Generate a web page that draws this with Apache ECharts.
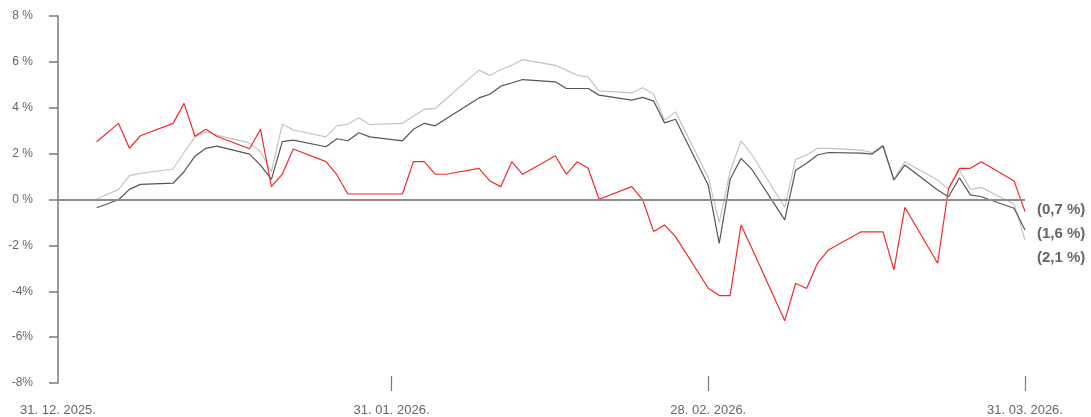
<!DOCTYPE html>
<html><head><meta charset="utf-8">
<script src="https://cdn.jsdelivr.net/npm/echarts@6/dist/echarts.min.js"></script>
<style>html,body{margin:0;padding:0;background:#fff}#c{width:1091px;height:417px}</style>
</head><body><div id="c"></div>
<script>
// ---- data ----
const dates = [
  '2026-01-05','2026-01-07','2026-01-08','2026-01-09','2026-01-12','2026-01-13','2026-01-14','2026-01-15','2026-01-16',
  '2026-01-19','2026-01-20','2026-01-21','2026-01-22','2026-01-23','2026-01-26','2026-01-27','2026-01-28','2026-01-29','2026-01-30',
  '2026-02-02','2026-02-03','2026-02-04','2026-02-05','2026-02-06','2026-02-09','2026-02-10','2026-02-11','2026-02-12','2026-02-13',
  '2026-02-16','2026-02-17','2026-02-18','2026-02-19','2026-02-20','2026-02-23','2026-02-24','2026-02-25','2026-02-26','2026-02-27',
  '2026-03-02','2026-03-03','2026-03-04','2026-03-05','2026-03-06','2026-03-09','2026-03-10','2026-03-11','2026-03-12','2026-03-13',
  '2026-03-16','2026-03-17','2026-03-18','2026-03-19','2026-03-20','2026-03-23','2026-03-24','2026-03-25','2026-03-26','2026-03-27',
  '2026-03-30','2026-03-31'
];
const redValues = [
  2.52, 3.32, 2.23, 2.78, 3.32, 4.19, 2.76, 3.06, 2.76,
  2.21, 3.06, 0.56, 1.11, 2.20, 1.65, 1.07, 0.24, 0.24, 0.24,
  0.24, 1.65, 1.65, 1.10, 1.10, 1.36, 0.81, 0.56, 1.65, 1.10,
  1.91, 1.10, 1.65, 1.36, 0.01, 0.56, -0.02, -1.40, -1.11, -1.62,
  -3.87, -4.19, -4.19, -1.11, -2.14, -5.29, -3.65, -3.88, -2.78, -2.20,
  -1.41, -1.41, -1.41, -3.07, -0.34, -2.78, 0.49, 1.36, 1.36, 1.65,
  0.81, -0.53
];
const darkValues = [
  -0.36, -0.01, 0.44, 0.66, 0.71, 1.21, 1.89, 2.23, 2.33,
  1.98, 1.50, 0.88, 2.52, 2.59, 2.30, 2.65, 2.56, 2.91, 2.73,
  2.56, 3.06, 3.32, 3.21, 3.52, 4.43, 4.59, 4.94, 5.08, 5.23,
  5.13, 4.84, 4.84, 4.84, 4.55, 4.33, 4.45, 4.29, 3.34, 3.50,
  0.62, -1.91, 0.88, 1.79, 1.31, -0.89, 1.28, 1.58, 1.94, 2.05,
  2.02, 1.98, 2.33, 0.85, 1.50, 0.41, 0.12, 0.95, 0.20, 0.12,
  -0.38, -1.33
];
const lightValues = [
  0.02, 0.44, 1.04, 1.14, 1.33, 2.05, 2.73, 2.95, 2.81,
  2.47, 2.08, 1.21, 3.29, 3.03, 2.73, 3.21, 3.29, 3.56, 3.27,
  3.32, 3.63, 3.93, 3.97, 4.39, 5.64, 5.41, 5.67, 5.85, 6.10,
  5.85, 5.64, 5.42, 5.34, 4.74, 4.65, 4.87, 4.59, 3.46, 3.82,
  0.96, -1.01, 1.21, 2.56, 1.95, -0.34, 1.75, 1.94, 2.23, 2.23,
  2.15, 2.04, 2.37, 0.88, 1.65, 0.85, 0.44, 1.28, 0.44, 0.53,
  -0.20, -1.76
];
const endLabels = ['(0,7 %)', '(1,6 %)', '(2,1 %)'];
const xTickLabels = ['31. 12. 2025.', '31. 01. 2026.', '28. 02. 2026.', '31. 03. 2026.'];
const yTickValues = [-8, -6, -4, -2, 0, 2, 4, 6, 8];
const yTickLabels = ['-8%', '-6%', '-4%', '-2 %', '0 %', '2 %', '4 %', '6 %', '8 %'];

// ---- chart ----
// x values: days elapsed since 31.12.2025
const DAY = 86400000;
const ORIGIN = Date.UTC(2025, 11, 31);
function dayNum(s) { const p = s.split('-'); return (Date.UTC(+p[0], +p[1] - 1, +p[2]) - ORIGIN) / DAY; }
const xMin = 1.46;
const xMax = 90;
const xLabelValues = [xMin, 32, 61, 90];
const xTickValues = [32, 61, 90];
const FONT = '"Liberation Sans", Arial, sans-serif';
const AXIS_COLOR = '#7a7a7a';

function mk(name, values, color, labelIdx, dy, z) {
  return {
    type: 'line', name: name, z: z,
    data: dates.map((d, i) => [dayNum(d), values[i]]),
    symbol: 'none', showSymbol: false, animation: false,
    lineStyle: { color: color, width: 1.2 }, itemStyle: { color: color },
    endLabel: {
      show: true, formatter: () => endLabels[labelIdx],
      color: '#666', fontWeight: 'bold', fontSize: 15, fontFamily: FONT,
      distance: 12, offset: [0, dy]
    }
  };
}

const seriesLight = mk('light', lightValues, '#c4c4c4', 2, 18, 2);
const seriesDark = mk('dark', darkValues, '#555555', 1, 4, 3);
const seriesRed = mk('red', redValues, '#ee2b2b', 0, -2, 4);
seriesLight.markLine = {
  silent: true, symbol: ['none', 'none'], animation: false,
  label: { show: false },
  lineStyle: { color: '#8c8c8c', width: 2, type: 'solid' },
  data: [{ yAxis: 0 }]
};

const chart = echarts.init(document.getElementById('c'), null, { renderer: 'canvas' });
chart.setOption({
  animation: false,
  grid: { left: 58, right: 66, top: 16, bottom: 34, containLabel: false },
  xAxis: {
    type: 'value', min: xMin, max: xMax, offset: -7,
    axisLine: { show: false, onZero: false },
    splitLine: { show: false },
    axisTick: { show: true, length: 15, customValues: xTickValues, lineStyle: { color: AXIS_COLOR, width: 1.2 } },
    axisLabel: {
      show: true, customValues: xLabelValues, margin: 28, hideOverlap: false,
      showMinLabel: true, showMaxLabel: true,
      color: '#666', fontSize: 13, fontFamily: FONT,
      formatter: function (v) {
        let best = 0, bd = Infinity;
        xLabelValues.forEach((t, i) => { const d = Math.abs(t - v); if (d < bd) { bd = d; best = i; } });
        return xTickLabels[best];
      }
    }
  },
  yAxis: {
    type: 'value', min: -8, max: 8, interval: 2,
    axisLine: { show: true, lineStyle: { color: AXIS_COLOR, width: 1.5 } },
    axisTick: { show: true, length: 9, lineStyle: { color: AXIS_COLOR, width: 1.5 } },
    splitLine: { show: false },
    axisLabel: {
      margin: 25, color: '#666', fontSize: 12, fontFamily: FONT,
      formatter: function (v) { const i = yTickValues.indexOf(Math.round(v)); return i >= 0 ? yTickLabels[i] : ''; }
    }
  },
  series: [seriesLight, seriesDark, seriesRed]
});
</script>
</body></html>
